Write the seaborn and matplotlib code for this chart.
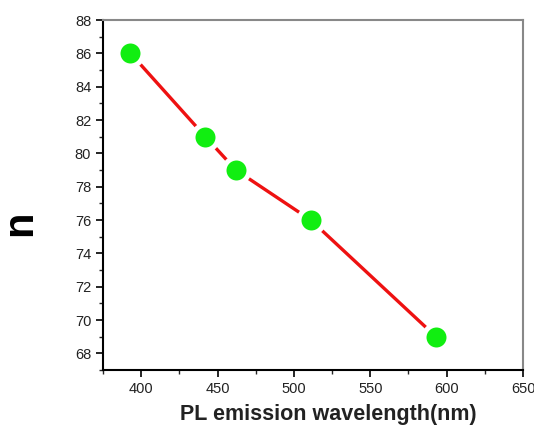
import matplotlib
matplotlib.use("Agg")
import matplotlib.pyplot as plt
import seaborn as sns
import pandas as pd
from matplotlib.ticker import MultipleLocator

wavelength = [393, 442, 462, 511, 593]
n_values = [86, 81, 79, 76, 69]
df = pd.DataFrame({"wavelength": wavelength, "n": n_values})

sns.set_style("white")
plt.rcParams['font.family'] = ['Liberation Sans', 'DejaVu Sans']

fig = plt.figure(figsize=(5.34, 4.25), dpi=100)
ax = fig.add_axes([103/534, 1-370/425, (523-103)/534, (370-20)/425])

sns.lineplot(data=df, x="wavelength", y="n", ax=ax, color="#ee1111", linewidth=2.4,
             marker="o", markersize=18, markerfacecolor="#11ee11",
             markeredgecolor="white", markeredgewidth=3.6)

ax.set_xlim(375, 650)
ax.set_ylim(67, 88)
ax.xaxis.set_major_locator(MultipleLocator(50))
ax.xaxis.set_minor_locator(MultipleLocator(25))
ax.yaxis.set_major_locator(MultipleLocator(2))
ax.yaxis.set_minor_locator(MultipleLocator(1))
ax.tick_params(axis="both", which="major", direction="out", length=5, width=1.2,
               labelsize=10.5, colors="black", labelcolor="#222222", left=True, bottom=True)
ax.tick_params(axis="both", which="minor", direction="out", length=3, width=1.0,
               left=True, bottom=True)
for s in ["left", "bottom"]:
    ax.spines[s].set_color("black")
    ax.spines[s].set_linewidth(1.5)
for s in ["top", "right"]:
    ax.spines[s].set_color("#888888")
    ax.spines[s].set_linewidth(1.5)

ax.set_xlabel("PL emission wavelength(nm)", fontsize=15.5, fontweight="bold", color="#222222")
ax.set_ylabel("n", fontsize=30, fontweight="bold", color="black")
ax.xaxis.set_label_coords(0.536, -0.097)
ax.yaxis.set_label_coords(-0.15, 0.42)

fig.savefig("out.png", dpi=100)
